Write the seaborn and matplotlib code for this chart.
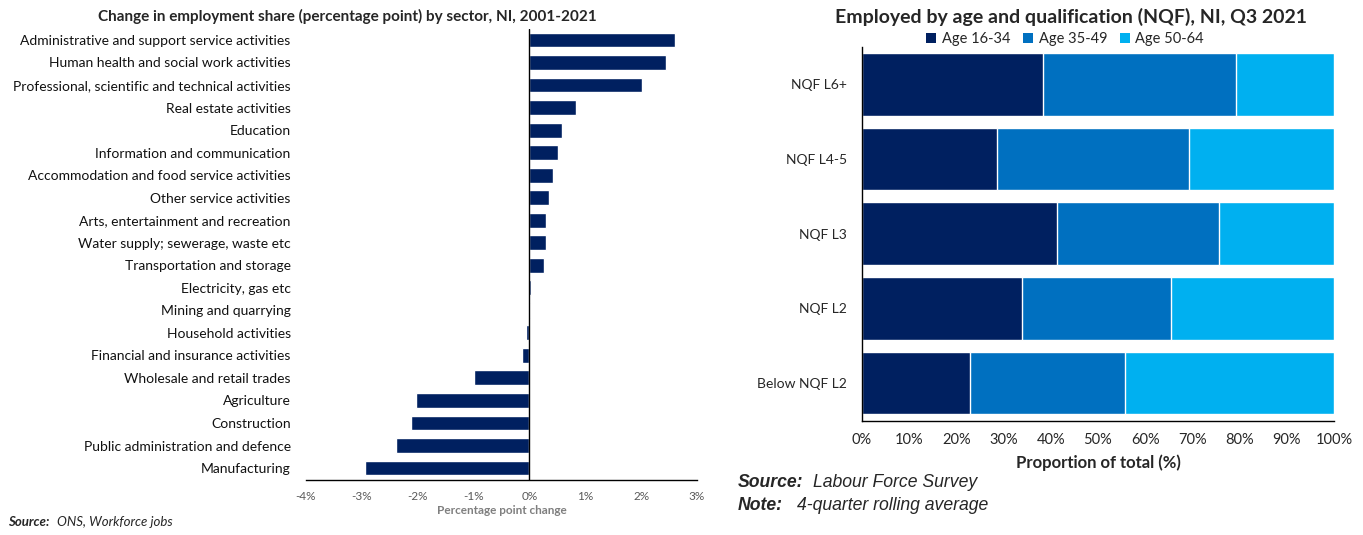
import numpy as np
import pandas as pd
import matplotlib
matplotlib.use("Agg")
import matplotlib.pyplot as plt
import seaborn as sns
from matplotlib.ticker import FuncFormatter
from matplotlib.patches import Patch

# ---- data: change in employment share by sector (percentage points) ----
sectors = [
    "Administrative and support service activities",
    "Human health and social work activities",
    "Professional, scientific and technical activities",
    "Real estate activities",
    "Education",
    "Information and communication",
    "Accommodation and food service activities",
    "Other service activities",
    "Arts, entertainment and recreation",
    "Water supply; sewerage, waste etc",
    "Transportation and storage",
    "Electricity, gas etc",
    "Mining and quarrying",
    "Household activities",
    "Financial and insurance activities",
    "Wholesale and retail trades",
    "Agriculture",
    "Construction",
    "Public administration and defence",
    "Manufacturing",
]
pp_change = [2.60, 2.45, 2.01, 0.83, 0.58, 0.52, 0.42, 0.35, 0.30, 0.29,
             0.26, 0.02, 0.01, -0.06, -0.14, -0.99, -2.03, -2.12, -2.38, -2.94]
pp_ticks = [-4, -3, -2, -1, 0, 1, 2, 3]

# ---- data: employed by age and qualification (share of total, %) ----
qualifications = ["NQF L6+", "NQF L4-5", "NQF L3", "NQF L2", "Below NQF L2"]
age_16_34 = [38.4, 28.6, 41.3, 33.9, 22.9]
age_35_49 = [40.8, 40.7, 34.3, 31.6, 32.8]
age_50_64 = [20.8, 30.7, 24.4, 34.5, 44.3]
age_groups = ["Age 16-34", "Age 35-49", "Age 50-64"]
pct_ticks = [0, 10, 20, 30, 40, 50, 60, 70, 80, 90, 100]

navy = "#002060"
mid_blue = "#0070C0"
light_blue = "#00B0F0"

sns.set_theme(style="white")
plt.rcParams["font.family"] = ["Lato", "DejaVu Sans"]

fig = plt.figure(figsize=(13.63, 5.35), dpi=100)

# ---------------- left: sector change ----------------
ax1 = fig.add_axes([0.2245, 0.1028, 0.2869, 0.8436])
df1 = pd.DataFrame({"sector": sectors, "change": pp_change})
sns.barplot(data=df1, x="change", y="sector", orient="h", color=navy,
            width=0.66, saturation=1, ax=ax1)
ax1.set_xlim(-4, 3)
ax1.set_ylim(len(sectors) - 0.47, -0.5)
ax1.set_xticks(pp_ticks)
ax1.xaxis.set_major_formatter(FuncFormatter(lambda v, p: f"{v:.0f}%"))
ax1.axvline(0, color="black", lw=1.0, zorder=3)
for s in ["top", "right", "left"]:
    ax1.spines[s].set_visible(False)
ax1.spines["bottom"].set_color("black")
ax1.spines["bottom"].set_linewidth(1.0)
ax1.tick_params(axis="y", length=0, labelsize=10, pad=11, labelcolor="#111111")
ax1.tick_params(axis="x", length=0, labelsize=8.5, pad=8, labelcolor="#595959")
ax1.set_ylabel("")
ax1.set_xlabel("Percentage point change", fontsize=8.5, fontweight="bold",
               color="#7f7f7f", labelpad=2)
fig.text(0.255, 0.970, "Change in employment share (percentage point) by sector, NI, 2001-2021",
         ha="center", va="center", fontsize=11, fontweight="bold")
fig.text(0.006, 0.024, "Source:", fontsize=9.5, fontweight="bold", style="italic",
         ha="left", va="center")
fig.text(0.0418, 0.024, "ONS, Workforce jobs", fontsize=9.5, style="italic",
         ha="left", va="center")

# ---------------- right: age by qualification ----------------
ax2 = fig.add_axes([0.6324, 0.2131, 0.3463, 0.699])
cum1 = np.array(age_16_34)
cum2 = cum1 + np.array(age_35_49)
cum3 = cum2 + np.array(age_50_64)
df2 = pd.DataFrame({"qual": qualifications, "c1": cum1, "c2": cum2, "c3": cum3})
for col, colour in [("c3", light_blue), ("c2", mid_blue), ("c1", navy)]:
    sns.barplot(data=df2, x=col, y="qual", orient="h", color=colour,
                width=0.84, saturation=1, ax=ax2)
ax2.set_xlim(0, 100)
ax2.set_ylim(len(qualifications) - 0.49, -0.5)
ax2.set_xticks(pct_ticks)
ax2.xaxis.set_major_formatter(FuncFormatter(lambda v, p: f"{v:.0f}%"))
for s in ["top", "right"]:
    ax2.spines[s].set_visible(False)
ax2.spines["left"].set_color("black")
ax2.spines["bottom"].set_color("black")
ax2.spines["left"].set_linewidth(1.0)
ax2.spines["bottom"].set_linewidth(1.0)
ax2.tick_params(axis="y", length=0, labelsize=10, pad=11)
ax2.tick_params(axis="x", length=0, labelsize=10.5, pad=9)
ax2.set_ylabel("")
ax2.set_xlabel("Proportion of total (%)", fontsize=12, fontweight="bold", labelpad=5)
fig.text(0.786, 0.968, "Employed by age and qualification (NQF), NI, Q3 2021",
         ha="center", va="center", fontsize=14, fontweight="bold")
handles = [Patch(facecolor=c, edgecolor="none") for c in (navy, mid_blue, light_blue)]
fig.legend(handles, age_groups, loc="center", bbox_to_anchor=(0.7815, 0.927), ncol=3,
           frameon=False, fontsize=10.5, handlelength=0.7, handleheight=0.7,
           handletextpad=0.35, columnspacing=0.9, borderaxespad=0)

src_font = dict(fontsize=12.7, style="italic", family="Liberation Sans",
                ha="left", va="center")
fig.text(0.5414, 0.099, "Source:", fontweight="bold", **src_font)
fig.text(0.5965, 0.099, "Labour Force Survey", **src_font)
fig.text(0.5414, 0.056, "Note:", fontweight="bold", **src_font)
fig.text(0.5847, 0.056, "4-quarter rolling average", **src_font)

fig.savefig("out.png", dpi=100, facecolor="white")
